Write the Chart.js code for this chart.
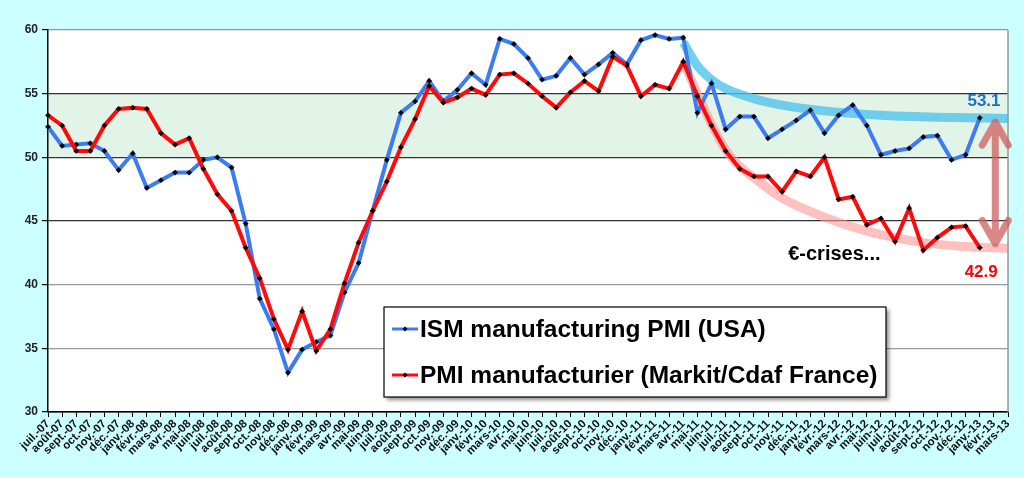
<!DOCTYPE html>
<html>
<head>
<meta charset="utf-8">
<script src="https://cdn.jsdelivr.net/npm/chart.js@4.4.1/dist/chart.umd.min.js"></script>
<style>
  html, body { margin: 0; padding: 0; background: #ccffff; }
  #wrap { width: 1024px; height: 478px; }
</style>
</head>
<body>
<div id="wrap"><canvas id="pmiChart"></canvas></div>
<script>
// Months, juil.-07 to mars-13
const labels = [
    'juil.-07', 'août-07', 'sept.-07', 'oct.-07', 'nov.-07', 'déc.-07',
    'janv.-08', 'févr.-08', 'mars-08', 'avr.-08', 'mai-08', 'juin-08', 'juil.-08', 'août-08', 'sept.-08', 'oct.-08', 'nov.-08', 'déc.-08',
    'janv.-09', 'févr.-09', 'mars-09', 'avr.-09', 'mai-09', 'juin-09', 'juil.-09', 'août-09', 'sept.-09', 'oct.-09', 'nov.-09', 'déc.-09',
    'janv.-10', 'févr.-10', 'mars-10', 'avr.-10', 'mai-10', 'juin-10', 'juil.-10', 'août-10', 'sept.-10', 'oct.-10', 'nov.-10', 'déc.-10',
    'janv.-11', 'févr.-11', 'mars-11', 'avr.-11', 'mai-11', 'juin-11', 'juil.-11', 'août-11', 'sept.-11', 'oct.-11', 'nov.-11', 'déc.-11',
    'janv.-12', 'févr.-12', 'mars-12', 'avr.-12', 'mai-12', 'juin-12', 'juil.-12', 'août-12', 'sept.-12', 'oct.-12', 'nov.-12', 'déc.-12',
    'janv.-13', 'févr.-13', 'mars-13'
];

// ISM manufacturing PMI (USA)
const ismUsa = [
    52.4, 50.9, 51.0, 51.1, 50.5, 49.0,
    50.3, 47.6, 48.2, 48.8, 48.8, 49.8, 50.0, 49.2, 44.8, 38.9, 36.5, 33.1,
    34.9, 35.5, 36.0, 39.4, 41.7, 45.8, 49.8, 53.5, 54.4, 56.0, 54.4, 55.3,
    56.6, 55.7, 59.3, 58.9, 57.8, 56.1, 56.4, 57.8, 56.5, 57.3, 58.2, 57.3,
    59.2, 59.6, 59.3, 59.4, 53.5, 55.8, 52.2, 53.2, 53.2, 51.5, 52.2, 52.9,
    53.7, 51.9, 53.3, 54.1, 52.5, 50.2, 50.5, 50.7, 51.6, 51.7, 49.8, 50.2,
    53.1
];

// PMI manufacturier (Markit/Cdaf France)
const pmiFrance = [
    53.3, 52.5, 50.5, 50.5, 52.5, 53.8,
    53.9, 53.8, 51.9, 51.0, 51.5, 49.1, 47.1, 45.8, 42.9, 40.5, 37.3, 34.9,
    37.9, 34.8, 36.5, 40.1, 43.3, 45.8, 48.1, 50.8, 53.0, 55.6, 54.3, 54.7,
    55.4, 54.9, 56.5, 56.6, 55.8, 54.8, 53.9, 55.1, 56.0, 55.2, 57.9, 57.2,
    54.8, 55.7, 55.4, 57.5, 54.8, 52.5, 50.5, 49.1, 48.5, 48.5, 47.3, 48.9,
    48.5, 50.0, 46.7, 46.9, 44.7, 45.2, 43.4, 46.0, 42.7, 43.7, 44.5, 44.6,
    42.9
];

// hand drawn trend curves (month index -> value)
const ismTrendIdx = [45, 46, 47, 48, 50, 52, 55, 59, 63, 68];
const ismTrendVal = [59.0, 57.2, 56.1, 55.4, 54.6, 54.1, 53.65, 53.3, 53.15, 53.05];
const pmiTrendIdx = [45, 46, 47, 48, 49, 50, 52, 55, 58, 62, 65, 68];
const pmiTrendVal = [57.5, 55.0, 52.6, 50.6, 49.3, 48.4, 46.8, 45.3, 44.2, 43.3, 43.0, 42.85];

const FONT = 'Arial, "Liberation Sans", sans-serif';
const ISM_COLOR = '#3b7cf0';
const PMI_COLOR = '#ff0a0a';

function trendPoints(idx, val) {
    return idx.map((i, k) => ({ x: labels[i], y: val[k] }));
}

/* Background, band, arrow, notes, legend */
const decor = {
    id: 'decor',
    beforeDraw(chart) {
        const { ctx, chartArea: a, scales: { y } } = chart;
        ctx.save();
        ctx.fillStyle = '#ccffff';
        ctx.fillRect(0, 0, chart.width, chart.height);
        ctx.fillStyle = '#ffffff';
        ctx.fillRect(a.left, a.top, a.right - a.left, a.bottom - a.top);
        // zone 50-55
        const y55 = y.getPixelForValue(55), y50 = y.getPixelForValue(50);
        ctx.fillStyle = '#e2f4e8';
        ctx.fillRect(a.left, y55, a.right - a.left, y50 - y55);
        ctx.restore();
    },
    afterDatasetsDraw(chart) {
        const { ctx, chartArea: a, scales: { x, y } } = chart;
        ctx.save();
        // right border of plot
        ctx.strokeStyle = '#999';
        ctx.lineWidth = 1.5;
        ctx.beginPath();
        ctx.moveTo(a.right, a.top);
        ctx.lineTo(a.right, a.bottom);
        ctx.stroke();

        // double arrow between the two end levels
        const ax = x.getPixelForValue(67.1);
        const yTop = y.getPixelForValue(53.0);
        const yBot = y.getPixelForValue(43.0);
        ctx.strokeStyle = 'rgba(205, 95, 95, 0.75)';
        ctx.lineWidth = 7;
        ctx.lineCap = 'round';
        ctx.lineJoin = 'round';
        ctx.beginPath();
        ctx.moveTo(ax, yTop + 3);
        ctx.lineTo(ax, yBot - 3);
        ctx.moveTo(ax - 13, yTop + 26);
        ctx.lineTo(ax, yTop + 3);
        ctx.lineTo(ax + 13, yTop + 26);
        ctx.moveTo(ax - 13, yBot - 26);
        ctx.lineTo(ax, yBot - 3);
        ctx.lineTo(ax + 13, yBot - 26);
        ctx.stroke();

        // notes
        ctx.textAlign = 'center';
        ctx.textBaseline = 'middle';
        ctx.font = 'bold 17px ' + FONT;
        ctx.fillStyle = '#1f70c0';
        ctx.fillText('53.1', x.getPixelForValue(66.3), y.getPixelForValue(54.4));
        ctx.fillStyle = '#ff0000';
        ctx.fillText('42.9', x.getPixelForValue(66.1), y.getPixelForValue(41.0));
        ctx.fillStyle = '#000';
        ctx.font = 'bold 20px ' + FONT;
        ctx.fillText('€-crises...', x.getPixelForValue(55.7), y.getPixelForValue(42.4));
        ctx.restore();
    },
    afterDraw(chart) {
        const { ctx } = chart;
        const bx = 384, by = 307, bw = 502, bh = 90;
        ctx.save();
        ctx.shadowColor = 'rgba(0, 0, 0, 0.45)';
        ctx.shadowBlur = 4;
        ctx.shadowOffsetX = 3;
        ctx.shadowOffsetY = 3;
        ctx.fillStyle = '#fff';
        ctx.fillRect(bx, by, bw, bh);
        ctx.shadowColor = 'transparent';
        ctx.strokeStyle = '#000';
        ctx.lineWidth = 1.2;
        ctx.strokeRect(bx, by, bw, bh);

        const items = [chart.data.datasets[1], chart.data.datasets[0]];
        const rows = [by + 22, by + 68];
        ctx.font = 'bold 24.5px ' + FONT;
        ctx.textBaseline = 'middle';
        ctx.textAlign = 'left';
        items.forEach((ds, i) => {
            const ry = rows[i];
            ctx.strokeStyle = ds.borderColor;
            ctx.lineWidth = 3;
            ctx.beginPath();
            ctx.moveTo(bx + 8, ry);
            ctx.lineTo(bx + 34, ry);
            ctx.stroke();
            ctx.fillStyle = '#000';
            ctx.beginPath();
            ctx.moveTo(bx + 21, ry - 2.5);
            ctx.lineTo(bx + 23.5, ry);
            ctx.lineTo(bx + 21, ry + 2.5);
            ctx.lineTo(bx + 18.5, ry);
            ctx.fill();
            ctx.fillText(ds.label, bx + 36, ry + 1);
        });
        ctx.restore();
    }
};

function gridColor(context) {
    const v = context.tick.value;
    if (v === 45 || v === 50 || v === 55) return '#333';
    if (v === 30) return '#000';
    return '#999';
}

const context = document.getElementById('pmiChart').getContext('2d');
new Chart(context, {
    type: 'line',
    data: {
        labels: labels,
        datasets: [
            {
                label: 'PMI manufacturier (Markit/Cdaf France)',
                data: pmiFrance,
                borderColor: PMI_COLOR,
                borderWidth: 4,
                pointStyle: 'rectRot',
                pointRadius: 2.6,
                pointBackgroundColor: '#000',
                pointBorderColor: '#000',
                pointBorderWidth: 0.5,
                tension: 0
            },
            {
                label: 'ISM manufacturing PMI (USA)',
                data: ismUsa,
                borderColor: ISM_COLOR,
                borderWidth: 4,
                pointStyle: 'rectRot',
                pointRadius: 2.6,
                pointBackgroundColor: '#000',
                pointBorderColor: '#000',
                pointBorderWidth: 0.5,
                tension: 0
            },
            {
                label: 'tendance USA',
                data: trendPoints(ismTrendIdx, ismTrendVal),
                borderColor: 'rgba(80, 195, 235, 0.8)',
                borderWidth: 9,
                pointRadius: 0,
                cubicInterpolationMode: 'monotone',
                clip: false
            },
            {
                label: 'tendance France',
                data: trendPoints(pmiTrendIdx, pmiTrendVal),
                borderColor: 'rgba(255, 150, 150, 0.6)',
                borderWidth: 9,
                pointRadius: 0,
                cubicInterpolationMode: 'monotone',
                clip: false
            }
        ]
    },
    options: {
        responsive: true,
        maintainAspectRatio: false,
        animation: false,
        layout: { padding: { top: 30, right: 16, left: 0, bottom: 0 } },
        plugins: {
            legend: { display: false },
            tooltip: { enabled: false }
        },
        scales: {
            x: {
                offset: false,
                grid: { drawOnChartArea: false, drawTicks: true, tickLength: 5, tickColor: '#000' },
                border: { color: '#000', width: 1.5 },
                ticks: {
                    autoSkip: false,
                    maxRotation: 45,
                    minRotation: 45,
                    padding: 0,
                    color: '#111',
                    font: { family: FONT, size: 11.5, weight: 'bold' }
                },
                afterFit(scale) { scale.height = 66; }
            },
            y: {
                min: 30,
                max: 60,
                ticks: {
                    stepSize: 5,
                    padding: 4,
                    color: '#222',
                    font: { family: FONT, size: 12, weight: 'bold' }
                },
                grid: { color: gridColor, lineWidth: 1.2, tickLength: 6, tickColor: '#000' },
                border: { color: '#000', width: 1.5 },
                afterFit(scale) { scale.width = 48; }
            }
        }
    },
    plugins: [decor]
});
</script>
</body>
</html>
